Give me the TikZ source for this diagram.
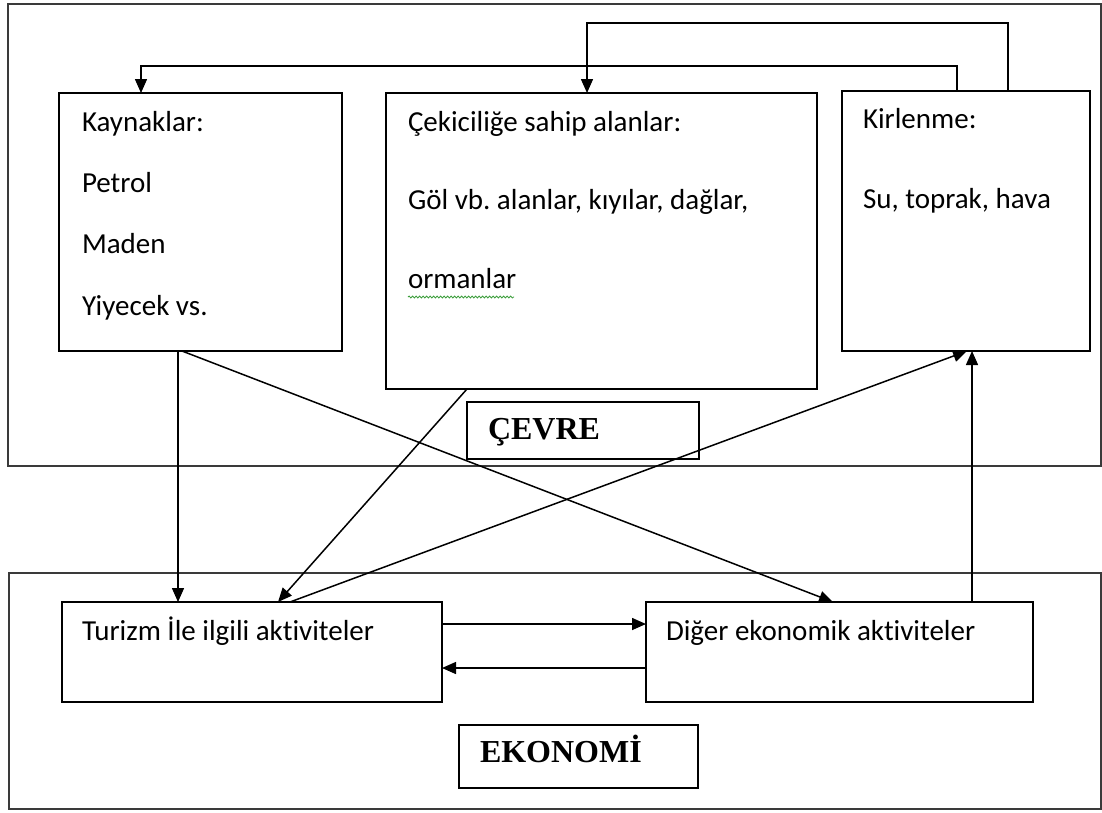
\documentclass[tikz,border=0pt]{standalone}
\usepackage{fontspec}
\setmainfont{Carlito}[Ligatures=NoCommon]
\newfontfamily\tagfont{Liberation Serif}
\usetikzlibrary{arrows.meta,positioning,calc,decorations.pathmorphing}
\definecolor{FrameGray}{HTML}{3A3A3A}
\definecolor{SpellGreen}{HTML}{3C9E3C}
\frenchspacing

\begin{document}
\begin{tikzpicture}[
x=1pt, y=-1pt,
every node/.style={inner sep=0pt, outer sep=0pt},
frame/.style={draw=FrameGray, line width=1.6pt, anchor=north west},
box/.style={draw=black, line width=1.5pt, anchor=north west},
txt/.style={anchor=base west, align=left, font=\fontsize{29}{78.5}\selectfont},
tagtext/.style={anchor=base west, font=\tagfont\bfseries\fontsize{32}{32}\selectfont},
arrow/.style={-{Triangle[length=14pt,width=12pt]}, line width=1.5pt}
]
\useasboundingbox (0,0) rectangle (1102,812);
% two frames
\node[frame, minimum width=1093pt, minimum height=462pt] (cevre) at (8,4) {};
\node[frame, minimum width=1092pt, minimum height=236pt] (ekonomi) at (9,573) {};
% environment boxes
\node[box, minimum width=283pt, minimum height=258pt] (kay) at (59,93) {};
\node[box, minimum width=431pt, minimum height=296pt] (cek) at (386,93) {};
\node[box, minimum width=248pt, minimum height=260pt] (kir) at (842,91) {};
\node[box, minimum width=232pt, minimum height=57pt] (cevtag) at (467,402) {};
% economy boxes
\node[box, minimum width=380pt, minimum height=100pt] (tur) at (62,602) {};
\node[box, minimum width=387pt, minimum height=100pt] (dig) at (646,602) {};
\node[box, minimum width=239pt, minimum height=63pt] (ekotag) at (459,725) {};
% texts (anchored on the last baseline)
\node[txt, font=\fontsize{29}{61.3}\selectfont] (kaytext) at (82,315) {Kaynaklar:\\Petrol\\Maden\\Yiyecek vs.};
\node[txt] (cektext) at (408,288) {Çekiciliğe sahip alanlar:\\Göl vb. alanlar, kıyılar, dağlar,\\ormanlar};
\node[txt, font=\fontsize{29}{80}\selectfont] (kirtext) at (863,208) {Kirlenme:\\Su, toprak, hava};
\node[txt] (turtext) at (82,640) {Turizm İle ilgili aktiviteler};
\node[txt] (digtext) at (666,640) {Diğer ekonomik aktiviteler};
\node[tagtext] (cevtext) at (488,439) {ÇEVRE};
\node[tagtext] (ekotext) at (480,762) {EKONOMİ};
\draw[SpellGreen, line width=0.8pt, decorate, decoration={snake, amplitude=1pt, segment length=3.5pt}] (408,297) -- (514,297);
% feedback from pollution
\draw[arrow] (957,0 |- kir.north) |- (141,66) -- (141,0 |- kay.north);
\draw[arrow] (1008,0 |- kir.north) |- (587,23) -- (587,0 |- cek.north);
% down to economy
\draw[arrow] (178,0 |- kay.south) -- (178,0 |- tur.north);
\draw[arrow] (182,0 |- kay.south) -- (833,0 |- dig.north);
\draw[arrow] (467,0 |- cek.south) -- (278,0 |- tur.north);
% up to pollution
\draw[arrow] (290,0 |- tur.north) -- (967,0 |- kir.south);
\draw[arrow] (972,0 |- dig.north) -- (972,0 |- kir.south);
% between activities
\draw[arrow] (tur.east |- 0,624) -- (dig.west |- 0,624);
\draw[arrow] (dig.west |- 0,668) -- (tur.east |- 0,668);
\end{tikzpicture}
\end{document}
